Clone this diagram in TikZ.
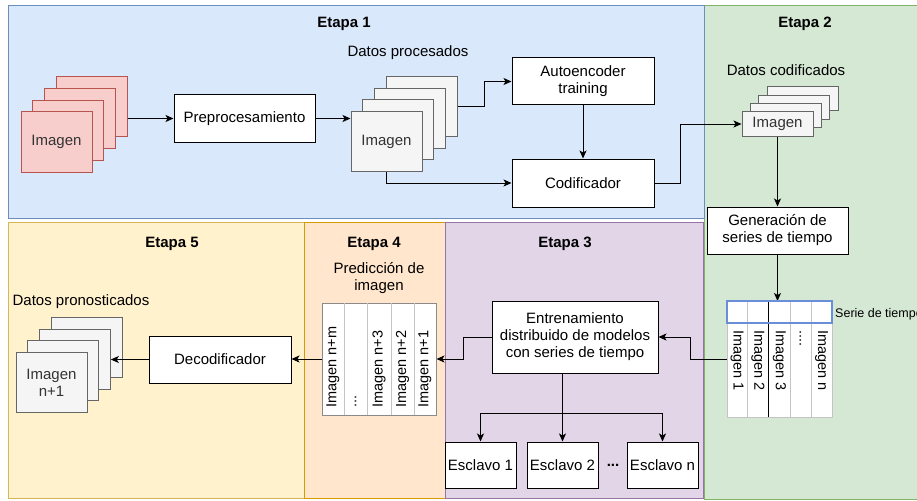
\documentclass[tikz,border=0pt]{standalone}
\usepackage{fontspec}
\setmainfont{Liberation Sans}
\usetikzlibrary{arrows.meta}
\definecolor{s1fill}{HTML}{DAE8FC}\definecolor{s1line}{HTML}{6C8EBF}
\definecolor{s2fill}{HTML}{D5E8D4}\definecolor{s2line}{HTML}{82B366}
\definecolor{s3fill}{HTML}{E1D5E7}\definecolor{s3line}{HTML}{9673A6}
\definecolor{s4fill}{HTML}{FFE6CC}\definecolor{s4line}{HTML}{D79B00}
\definecolor{s5fill}{HTML}{FFF2CC}\definecolor{s5line}{HTML}{D6B656}
\definecolor{redfill}{HTML}{F8CECC}\definecolor{redline}{HTML}{B85450}
\definecolor{grayfill}{HTML}{F5F5F5}\definecolor{grayline}{HTML}{666666}
\definecolor{graytext}{HTML}{333333}
\definecolor{hdrblue}{HTML}{6A8FD8}
\definecolor{lightln}{HTML}{C4C4C4}
\definecolor{midln}{HTML}{8A8A8A}
\begin{document}
\begin{tikzpicture}[x=1pt,y=-1pt,font=\fontsize{15}{17}\selectfont,
  stage/.style={line width=1pt},
  title/.style={font=\fontsize{15}{17}\selectfont\bfseries},
  lbl/.style={align=center,inner sep=0pt},
  box/.style={draw=black,fill=white,line width=1pt,align=center,inner sep=0pt},
  redsq/.style={draw=redline,fill=redfill,line width=1pt,minimum width=71pt,minimum height=60pt,inner sep=0pt,text=graytext,align=center},
  graysq/.style={draw=grayline,fill=grayfill,line width=1pt,minimum width=71pt,minimum height=60pt,inner sep=0pt,text=graytext,align=center},
  codsq/.style={draw=grayline,fill=grayfill,line width=1pt,minimum width=71pt,minimum height=24pt,inner sep=0pt,text=graytext},
  arr/.style={draw=black,line width=1pt,-{Stealth[length=8pt,width=7pt,inset=2pt]}},
  coltxt/.style={inner sep=0pt,font=\fontsize{14.5}{16}\selectfont}
]
\useasboundingbox (0,0) rectangle (917,500);
\fill[white] (0,0) rectangle (917,500);
% stages
\draw[stage,draw=s2line,fill=s2fill] (704,6) rectangle (930,499);
\draw[stage,draw=s1line,fill=s1fill] (8,6) rectangle (704,218);
\draw[stage,draw=s5line,fill=s5fill] (8,222) rectangle (304,498);
\draw[stage,draw=s4line,fill=s4fill] (304,222) rectangle (445,498);
\draw[stage,draw=s3line,fill=s3fill] (445,222) rectangle (703,498);
\node[title] (t1lbl) at (344,24) {Etapa 1};
\node[title] (t2lbl) at (805,24) {Etapa 2};
\node[title] (t3lbl) at (565,244) {Etapa 3};
\node[title] (t4lbl) at (374,244) {Etapa 4};
\node[title] (t5lbl) at (172,244) {Etapa 5};
% Etapa 1
\node[redsq] (r4) at (91.5,106.5) {};
\node[redsq] (r3) at (79.8,118.3) {};
\node[redsq] (r2) at (68.2,130.2) {};
\node[redsq] (r1) at (56.5,142) {Imagen};
\node[box,minimum width=141pt,minimum height=47pt] (pre) at (244.5,118.5) {Preprocesamiento};
\node[lbl] (dproc) at (408,53) {Datos procesados};
\node[graysq] (g4) at (421.5,106.5) {};
\node[graysq] (g3) at (409.8,118.2) {};
\node[graysq] (g2) at (398.2,129.8) {};
\node[graysq] (g1) at (386.5,141.5) {Imagen};
\node[box,minimum width=142pt,minimum height=47pt] (ae) at (583,81.5) {Autoencoder\\training};
\node[box,minimum width=142pt,minimum height=48pt] (cod) at (583,183) {Codificador};
\draw[arr] (r4.east |- pre.west) -- (pre.west);
\draw[arr] (pre.east) -- (pre.east -| g1.west);
\draw[arr] (g4.east) -- ++(27,0) |- (ae.west);
\draw[arr] (g1.south) |- (cod.west);
\draw[arr] (ae.south) -- (cod.north);
% Etapa 2
\node[lbl] (dcod) at (786,70) {Datos codificados};
\node[codsq] (c4) at (802.5,99) {};
\node[codsq] (c3) at (794.2,107.3) {};
\node[codsq] (c2) at (785.8,115.7) {};
\node[codsq] (c1) at (777.5,124) {Imagen};
\draw[arr] (cod.east) -- ++(26,0) |- (c1.west);
\node[box,minimum width=141pt,minimum height=47pt] (gen) at (777.5,230.5) {Generación de\\series de tiempo};
\draw[arr] (c1.south) -- (c1.south |- gen.north);
% table 1
\node[draw=lightln,fill=white,line width=1pt,minimum width=105pt,minimum height=116pt,inner sep=0pt] (tab1) at (779.5,359) {};
\coordinate (tab1top) at (779.5,301);
\draw[arr] (gen.south) -- (gen.south |- tab1top);
\foreach \x in {747,790,811}{\draw[lightln,line width=1pt] (\x,301) -- (\x,417);}
\draw[black,line width=1pt] (768,301) -- (768,417);
\draw[hdrblue,line width=1.5pt] (727,301) rectangle (832,323);
\node[coltxt,rotate=-90,anchor=west] (i1) at (737,330) {Imagen 1};
\node[coltxt,rotate=-90,anchor=west] (i2) at (758,330) {Imagen 2};
\node[coltxt,rotate=-90,anchor=west] (i3) at (779.5,330) {Imagen 3};
\node[coltxt,rotate=-90,anchor=west] (idots) at (800.5,330) {....};
\node[coltxt,rotate=-90,anchor=west] (in) at (821.5,330) {Imagen n};
\node[anchor=west,inner sep=0pt,font=\fontsize{12.5}{14}\selectfont] (serie) at (835,314) {Serie de tiempo};
% Etapa 3
\node[box,minimum width=166pt,minimum height=72pt] (ent) at (575,337) {Entrenamiento\\distribuido de modelos\\con series de tiempo};
\draw[arr] (tab1.west) -- ++(-36,0) |- (ent.east);
\node[box,minimum width=71pt,minimum height=46pt] (e1) at (480.5,465) {Esclavo 1};
\node[box,minimum width=71pt,minimum height=46pt] (e2) at (562.5,465) {Esclavo 2};
\node[box,minimum width=71pt,minimum height=46pt] (en) at (662.5,465) {Esclavo n};
\node[inner sep=0pt,font=\fontsize{15}{17}\selectfont\bfseries] (edots) at (613,465) {...};
\coordinate (jn) at (562.5,413);
\draw[line width=1pt] (e2.north |- ent.south) -- (jn);
\draw[arr] (jn) -- (e2.north);
\draw[arr] (jn) -| (e1.north);
\draw[arr] (jn) -| (en.north);
% Etapa 4
\node[lbl] (pred) at (379,278) {Predicción de\\imagen};
\node[draw=midln,fill=white,line width=1pt,minimum width=114pt,minimum height=112pt,inner sep=0pt] (tab2) at (379,359) {};
\foreach \x in {344,367,391,414}{\draw[lightln,line width=1pt] (\x,303) -- (\x,415);}
\node[coltxt,rotate=90,anchor=west] (p_m) at (333,408) {Imagen n+m};
\node[coltxt,rotate=90,anchor=west] (p_d) at (355.5,408) {...};
\node[coltxt,rotate=90,anchor=west] (p_3) at (379,408) {Imagen n+3};
\node[coltxt,rotate=90,anchor=west] (p_2) at (402.5,408) {Imagen n+2};
\node[coltxt,rotate=90,anchor=west] (p_1) at (425,408) {Imagen n+1};
\draw[arr] (ent.west) -- ++(-28,0) |- (tab2.east);
% Etapa 5
\node[box,minimum width=142pt,minimum height=47pt] (dec) at (220,359.5) {Decodificador};
\draw[arr] (tab2.west) -- (tab2.west -| dec.east);
\node[lbl] (dpron) at (81,302) {Datos pronosticados};
\node[graysq] (q4) at (86.5,347.5) {};
\node[graysq] (q3) at (74.8,359.2) {};
\node[graysq] (q2) at (63.2,370.8) {};
\node[graysq] (q1) at (51.5,382.5) {Imagen\\n+1};
\draw[arr] (dec.west) -- (dec.west -| q3.east);
\end{tikzpicture}
\end{document}
